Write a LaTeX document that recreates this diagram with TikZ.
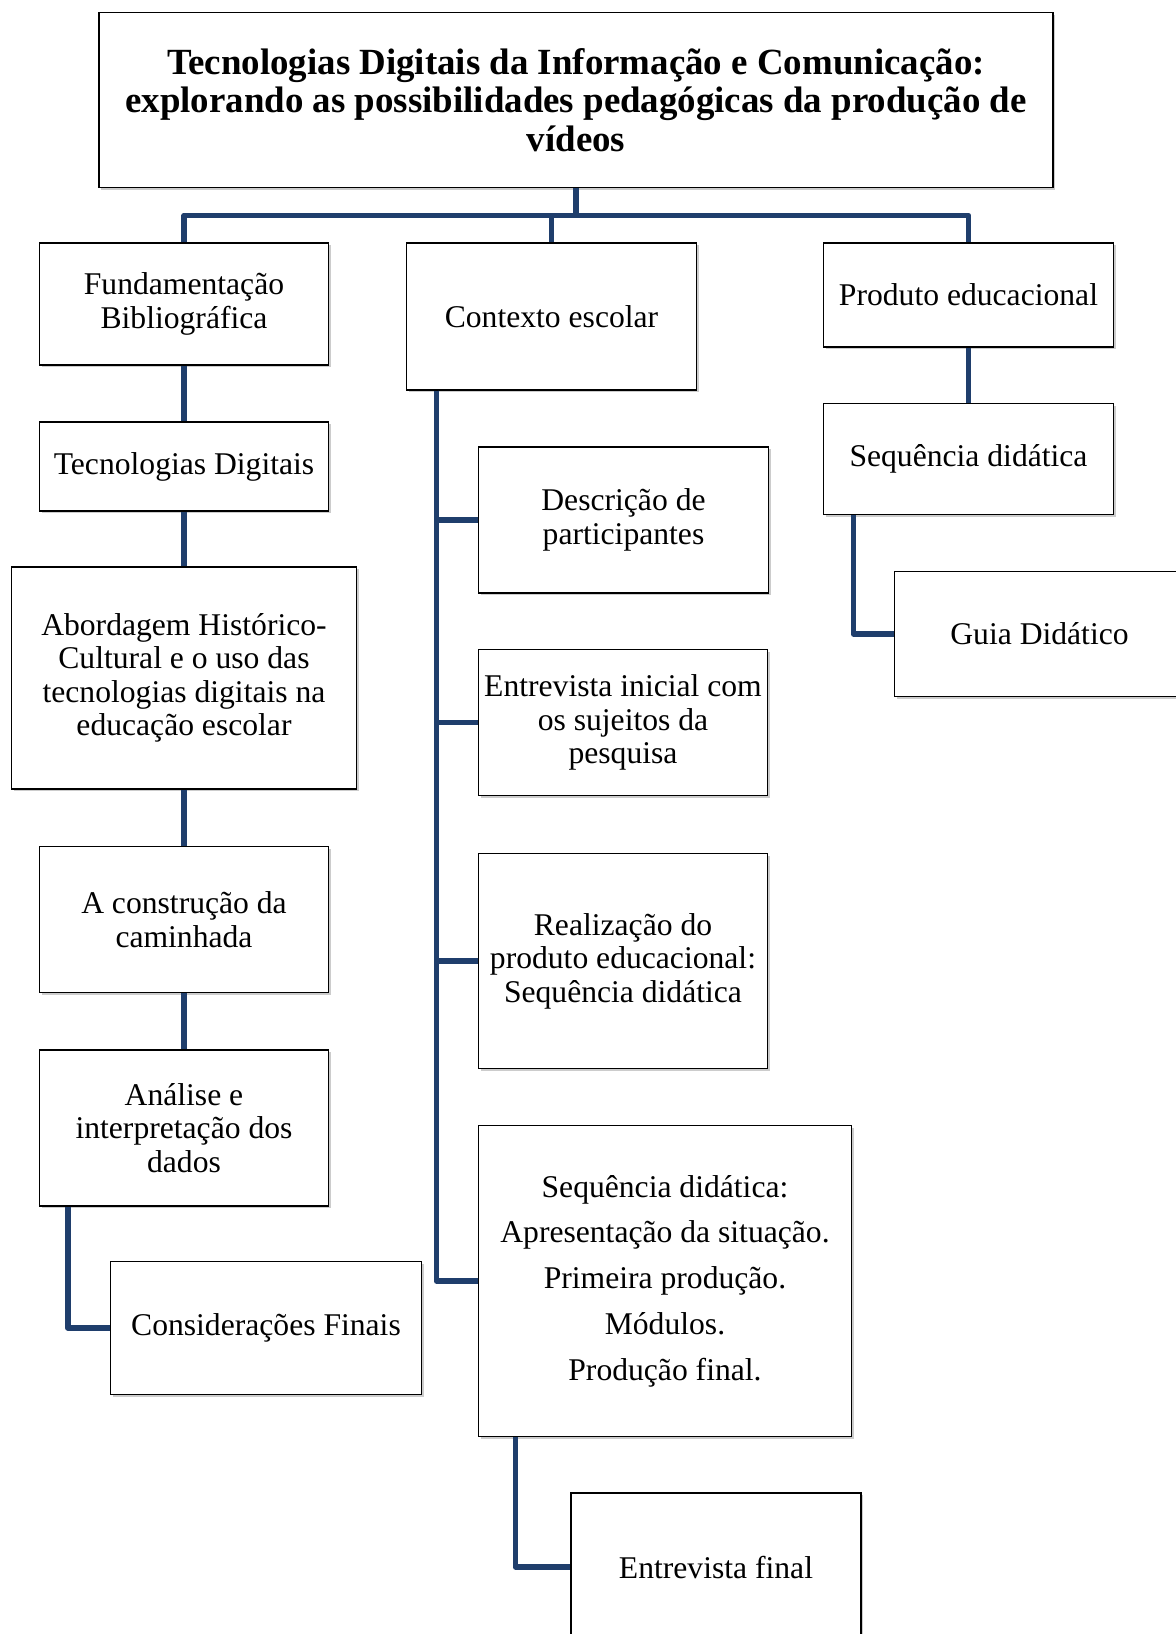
\documentclass[tikz,border=0pt]{standalone}
\usepackage{fontspec}
\setmainfont{Liberation Serif}
\usetikzlibrary{shadows}
\definecolor{linkblue}{RGB}{31,62,108}
\tikzset{
  box/.style={draw=black, line width=0.8pt, fill=white, align=center, inner sep=2pt,
    font=\fontsize{18pt}{19pt}\selectfont,
    drop shadow={shadow xshift=1.3pt, shadow yshift=-1.3pt, opacity=0.4}},
  link/.style={linkblue, line width=3.1pt, line join=round}
}

\begin{document}
\begin{tikzpicture}[x=0.02cm, y=-0.02cm]
    \useasboundingbox (0,0) rectangle (1176,1634);

    % title
    \node[box, minimum width=19.08cm, minimum height=3.51cm, font=\bfseries\fontsize{21pt}{22pt}\selectfont] (title) at (576,100)
      {Tecnologias Digitais da Informação e Comunicação:\\ explorando as possibilidades pedagógicas da produção de\\ vídeos};

    % first row
    \node[box, minimum width=5.78cm, minimum height=2.44cm] (fund) at (184,304) {Fundamentação\\ Bibliográfica};
    \node[box, minimum width=5.80cm, minimum height=2.94cm] (ctx) at (551.5,316.5) {Contexto escolar};
    \node[box, minimum width=5.80cm, minimum height=2.08cm] (prod) at (968.5,295) {Produto educacional};

    \draw[link] (title.south) -- ++(0,27) coordinate (bus);
    \draw[link] (fund.north) |- (bus) -| (prod.north);
    \draw[link] (ctx.north) -- (ctx.north |- bus);

    % for Fundamentacao
    \node[box, minimum width=5.78cm, minimum height=1.78cm] (tec) at (184,466.5) {Tecnologias Digitais};
    \node[box, minimum width=6.90cm, minimum height=4.44cm] (abord) at (184,678) {Abordagem Histórico-\\ Cultural e o uso das\\ tecnologias digitais na\\ educação escolar};
    \node[box, minimum width=5.78cm, minimum height=2.92cm] (constr) at (184,919.5) {A construção da\\ caminhada};
    \node[box, minimum width=5.78cm, minimum height=3.12cm] (anal) at (184,1128) {Análise e\\ interpretação dos\\ dados};
    \node[box, minimum width=6.23cm, minimum height=2.65cm] (consid) at (266,1328) {Considerações Finais};

    \draw[link] (fund.south) -- (tec.north);
    \draw[link] (tec.south) -- (abord.north);
    \draw[link] (abord.south) -- (constr.north);
    \draw[link] (constr.south) -- (anal.north);
    \draw[link] ([xshift=0.58cm]anal.south west) |- (consid.west);

    % for Contexto escolar
    \node[box, minimum width=5.80cm, minimum height=2.92cm] (desc) at (623.5,520) {Descrição de\\ participantes};
    \node[box, minimum width=5.78cm, minimum height=2.92cm] (entr) at (623,722.5) {Entrevista inicial com\\ os sujeitos da\\ pesquisa};
    \node[box, minimum width=5.78cm, minimum height=4.31cm] (real) at (623,961) {Realização do\\ produto educacional:\\ Sequência didática};
    \node[box, minimum width=7.46cm, minimum height=6.23cm, font=\fontsize{18pt}{26pt}\selectfont] (seqm) at (665,1281)
      {Sequência didática:\\ Apresentação da situação.\\ Primeira produção.\\ Módulos.\\ Produção final.};
    \node[box, minimum width=5.80cm, minimum height=2.96cm] (entf) at (716,1567) {Entrevista final};

    \coordinate (ctxtrunk) at ([xshift=0.61cm]ctx.south west);
    \draw[link] (ctxtrunk) |- (seqm.west);
    \draw[link] (ctxtrunk) |- (desc.west);
    \draw[link] (ctxtrunk) |- (entr.west);
    \draw[link] (ctxtrunk) |- (real.west);
    \draw[link] ([xshift=0.75cm]seqm.south west) |- (entf.west);

    % for Produto educacional
    \node[box, minimum width=5.80cm, minimum height=2.23cm] (seqr) at (968.5,459) {Sequência didática};
    \node[box, minimum width=5.80cm, minimum height=2.51cm] (guia) at (1039.5,634) {Guia Didático};

    \draw[link] (prod.south) -- (seqr.north);
    \draw[link] ([xshift=0.61cm]seqr.south west) |- (guia.west);
\end{tikzpicture}
\end{document}
